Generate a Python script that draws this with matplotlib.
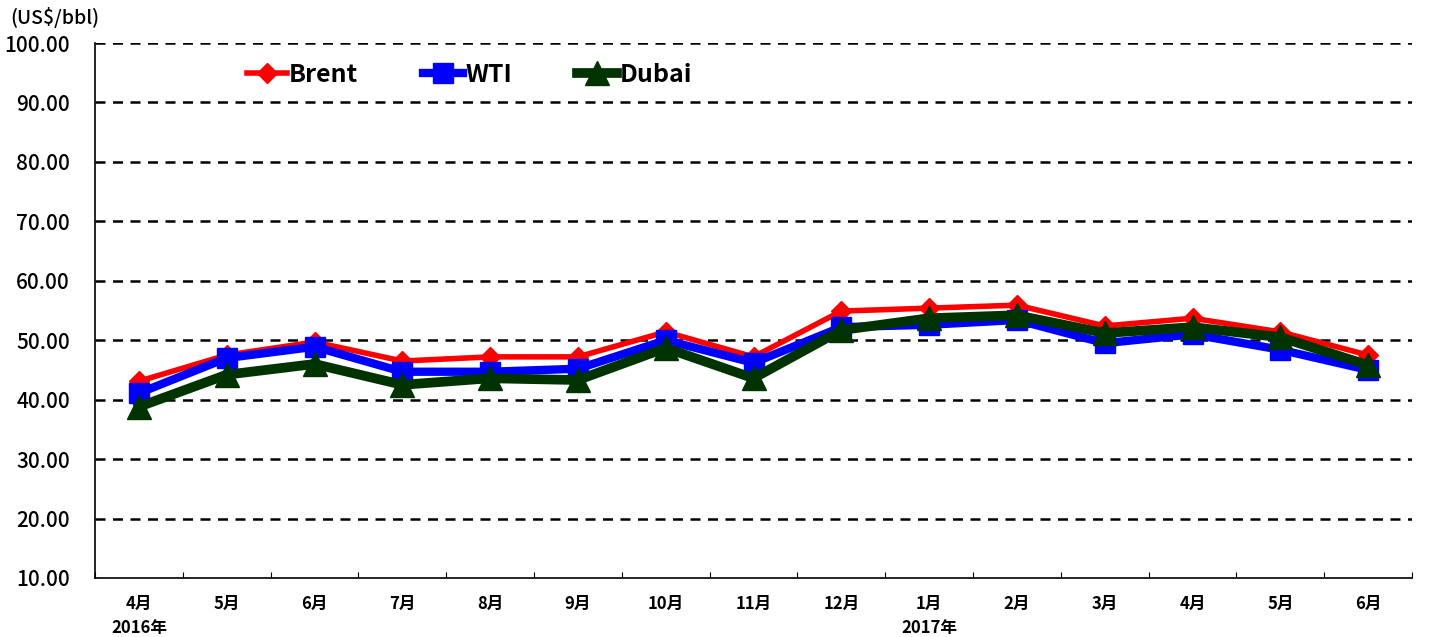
import numpy as np
import matplotlib.pyplot as plt

plt.rcParams['font.family'] = ['Noto Sans CJK JP', 'DejaVu Sans']

months = ['4月', '5月', '6月', '7月', '8月', '9月', '10月', '11月', '12月',
          '1月', '2月', '3月', '4月', '5月', '6月']
year_labels = {0: '2016年', 9: '2017年'}

brent = [43.1, 47.5, 49.7, 46.5, 47.2, 47.2, 51.4, 47.2, 54.9,
         55.4, 55.9, 52.4, 53.7, 51.4, 47.5]
wti = [41.1, 47.0, 48.9, 44.7, 44.7, 45.2, 50.0, 46.2, 52.2,
       52.6, 53.4, 49.5, 51.0, 48.4, 45.0]
dubai = [38.8, 44.2, 46.0, 42.5, 43.6, 43.3, 48.7, 43.6, 51.7,
         53.7, 54.2, 51.2, 52.2, 50.5, 45.8]

fig = plt.figure(figsize=(14.36, 6.37), dpi=100)
ax = fig.add_axes([95 / 1436, 1 - 578 / 637, (1412 - 95) / 1436, (578 - 43) / 637])

x = np.arange(len(months))
ax.plot(x, brent, color='#FF0000', lw=4, marker='D', ms=10, label='Brent', zorder=3)
ax.plot(x, wti, color='#0000FF', lw=6, marker='s', ms=14, label='WTI', zorder=4)
ax.plot(x, dubai, color='#003300', lw=7, marker='^', ms=17, label='Dubai', zorder=5)

ax.set_xlim(-0.5, len(months) - 0.5)
ax.set_ylim(10, 100)
ax.set_yticks(np.arange(10, 101, 10))
ax.set_yticklabels([f'{v:.2f}' for v in np.arange(10, 101, 10)], fontsize=15,
                   fontweight='medium')
for v in np.arange(20, 101, 10):
    ax.axhline(v, color='black', lw=1.8, ls=(0, (4, 3)), zorder=1)
ax.tick_params(axis='y', length=0, pad=18)

ax.set_xticks(np.arange(-0.5, len(months), 1))
ax.set_xticklabels([])
ax.tick_params(axis='x', which='major', direction='in', length=4)
ax.set_xticks(x, minor=True)
labels = [m + ('\n' + year_labels[i] if i in year_labels else '') for i, m in enumerate(months)]
ax.set_xticklabels(labels, minor=True, fontsize=12, fontweight='bold',
                   linespacing=1.45, va='top')
ax.tick_params(axis='x', which='minor', length=0, pad=12)

ax.spines['top'].set_visible(False)
ax.spines['right'].set_visible(False)
ax.spines['left'].set_linewidth(1.2)
ax.spines['bottom'].set_linewidth(1.2)

ax.legend(loc='upper left', bbox_to_anchor=(0.098, 1.005), ncol=3, frameon=False,
          prop={'size': 18, 'weight': 'bold'}, handlelength=1.6,
          columnspacing=2.6, handletextpad=0.1)

fig.text(10 / 1436, 1 - 18 / 637, '(US$/bbl)', fontsize=14, va='center', ha='left',
         fontweight='medium')

fig.savefig('out.png', dpi=100)
